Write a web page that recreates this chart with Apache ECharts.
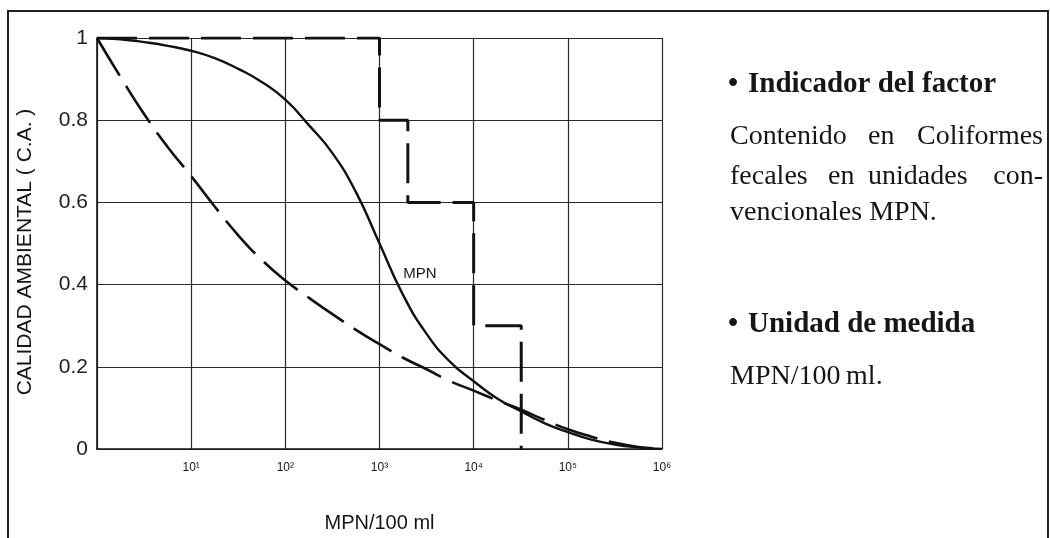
<!DOCTYPE html>
<html>
<head>
<meta charset="utf-8">
<script src="https://cdn.jsdelivr.net/npm/echarts@6/dist/echarts.min.js"></script>
<style>
  html, body { margin: 0; padding: 0; background: #ffffff; }
  #chart { width: 1050px; height: 538px; }
</style>
</head>
<body>
<div id="chart"></div>
<script>
// Calidad ambiental (C.A.) frente a coliformes fecales, MPN/100 ml (escala logarítmica)
const xTickLabels = ['', '10\u00B9', '10\u00B2', '10\u00B3', '10\u2074', '10\u2075', '10\u2076'];
const yTickLabels = ['0', '0.2', '0.4', '0.6', '0.8', '1'];

// Valores de MPN/100 ml donde se leen las curvas (cada cuarto de década)
const curveX = [1, 1.778, 3.162, 5.623, 10, 17.78, 31.62, 56.23, 100, 177.8, 316.2, 562.3,
                1000, 1778, 3162, 5623, 10000, 17780, 31620, 56230, 100000, 177800, 316200, 562300, 1000000];

// Curva continua (MPN)
const mpnY = [1.0, 0.997, 0.99, 0.981, 0.969, 0.951, 0.925, 0.893, 0.85, 0.788, 0.72, 0.625,
              0.50, 0.375, 0.28, 0.212, 0.165, 0.123, 0.092, 0.063, 0.041, 0.023, 0.011, 0.004, 0.0];

// Curva discontinua
const dashY = [1.0, 0.905, 0.815, 0.735, 0.664, 0.59, 0.52, 0.46, 0.41, 0.368, 0.328, 0.29,
               0.255, 0.222, 0.194, 0.165, 0.142, 0.118, 0.096, 0.071, 0.048, 0.03, 0.015, 0.005, 0.0];

// Función escalonada
const stepX = [1, 1000, 1000, 2000, 2000, 10000, 10000, 32000, 32000];
const stepY = [1.0, 1.0, 0.8, 0.8, 0.6, 0.6, 0.3, 0.3, 0.0];

const zip = (xs, ys) => xs.map((x, i) => [x, ys[i]]);

const chart = echarts.init(document.getElementById('chart'), null, { renderer: 'canvas' });

const ink = '#161616';
const serif = '"Liberation Serif", "Times New Roman", serif';
const sans = '"Liberation Sans", Arial, sans-serif';

function word(text, x, y, opts) {
  return {
    type: 'text', x: x, y: y, z: 10,
    style: Object.assign({
      text: text, fill: ink, font: '28px ' + serif,
      textAlign: 'left', textVerticalAlign: 'middle'
    }, opts || {})
  };
}

chart.setOption({
  backgroundColor: '#ffffff',
  animation: false,
  grid: { left: 97, right: 388, top: 38, bottom: 87, containLabel: false },
  xAxis: {
    type: 'log', logBase: 10, min: 1, max: 1000000,
    name: 'MPN/100 ml', nameLocation: 'middle', nameGap: 64,
    nameTextStyle: { fontFamily: sans, fontSize: 20, color: ink },
    axisLine: { show: true, lineStyle: { color: ink, width: 1.6 } },
    axisTick: { show: false },
    axisLabel: {
      fontFamily: sans, fontSize: 12, color: ink, margin: 13,
      formatter: v => xTickLabels[Math.round(Math.log10(v))] || ''
    },
    splitLine: { show: true, lineStyle: { color: '#2a2a2a', width: 1.2 } },
    minorTick: { show: false }
  },
  yAxis: {
    type: 'value', min: 0, max: 1, interval: 0.2,
    axisLine: { show: true, lineStyle: { color: ink, width: 1.6 } },
    axisTick: { show: false },
    axisLabel: {
      fontFamily: sans, fontSize: 21, color: '#222', margin: 9,
      formatter: v => yTickLabels[Math.round(v * 5)]
    },
    splitLine: { show: true, lineStyle: { color: '#2a2a2a', width: 1.2 } }
  },
  series: [
    {
      name: 'MPN', type: 'line', data: zip(curveX, mpnY),
      smooth: 0.5, symbol: 'none',
      lineStyle: { color: '#111', width: 2.4 }, z: 4
    },
    {
      name: 'discontinua', type: 'line', data: zip(curveX, dashY),
      smooth: 0.5, symbol: 'none',
      lineStyle: { color: '#111', width: 2.6, type: [44, 12] }, z: 3
    },
    {
      name: 'escalonada', type: 'line', data: zip(stepX, stepY),
      smooth: false, symbol: 'none',
      lineStyle: { color: '#111', width: 3, type: [40, 12] }, z: 5
    }
  ],
  graphic: [
    // marco exterior
    {
      type: 'rect', shape: { x: 8, y: 11, width: 1040, height: 540 },
      style: { fill: 'none', stroke: '#222', lineWidth: 2 }, z: 1
    },
    // título del eje Y
    {
      type: 'text', x: 25, y: 252, rotation: Math.PI / 2, z: 10,
      style: {
        text: 'CALIDAD AMBIENTAL ( C.A. )', fill: ink, font: '21px ' + sans,
        textAlign: 'center', textVerticalAlign: 'middle'
      }
    },
    // rótulo de la curva
    {
      type: 'text', x: 420, y: 274, z: 10,
      style: {
        text: 'MPN', fill: ink, font: '15px ' + sans,
        textAlign: 'center', textVerticalAlign: 'middle'
      }
    },
    // texto explicativo
    word('\u2022', 728, 85, { font: 'bold 29px ' + serif }),
    word('Indicador del factor', 748, 85, { font: 'bold 29px ' + serif }),
    word('Contenido', 730, 137),
    word('en', 868, 137),
    word('Coliformes', 1043, 137, { textAlign: 'right' }),
    word('fecales', 730, 177),
    word('en', 828, 177),
    word('unidades', 868, 177),
    word('con-', 1043, 177, { textAlign: 'right' }),
    word('vencionales MPN.', 730, 213),
    word('\u2022', 728, 325, { font: 'bold 29px ' + serif }),
    word('Unidad de medida', 748, 325, { font: 'bold 29px ' + serif }),
    word('MPN/100\u2009ml.', 730, 377)
  ]
});
</script>
</body>
</html>
